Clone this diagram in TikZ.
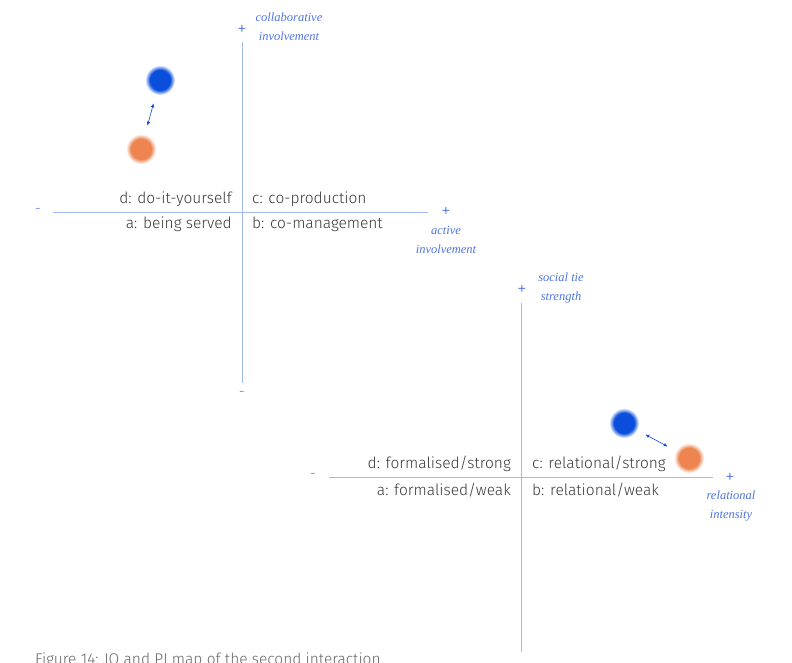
\documentclass[tikz,border=0pt]{standalone}
\usepackage{fontspec}
\setmainfont{Fira Sans Light}
\newfontfamily\axisfont{Liberation Serif}
\newfontfamily\signfont{Liberation Sans}
\usetikzlibrary{arrows.meta}

\definecolor{axisblue}{HTML}{4F74E0}
\definecolor{axisline}{HTML}{A3B8F0}
\definecolor{dotblue}{HTML}{0A4EDB}
\definecolor{dotorange}{HTML}{EE8450}
\definecolor{labelgray}{HTML}{383838}
\definecolor{captiongray}{HTML}{666666}

% soft-edged dots: solid core fading out to white at the rim
\pgfdeclareradialshading{bluedot}{\pgfpointorigin}{color(0bp)=(dotblue); color(17bp)=(dotblue); color(25bp)=(white); color(50bp)=(white)}
\pgfdeclareradialshading{orangedot}{\pgfpointorigin}{color(0bp)=(dotorange); color(17bp)=(dotorange); color(25bp)=(white); color(50bp)=(white)}

\tikzset{
  axis/.style={draw=axisline, line width=0.8pt},
  quadrant/.style={font=\fontsize{15.5}{18}\selectfont, text=labelgray, inner sep=0pt},
  axislabel/.style={font=\axisfont\itshape\fontsize{12.5}{19}\selectfont, text=axisblue, align=center, inner sep=0pt},
  plus/.style={font=\signfont\fontsize{14}{14}\selectfont, text=axisblue, inner sep=0pt},
  minus/.style={font=\fontsize{15}{15}\selectfont, text=axisblue, inner sep=0pt},
  bluedotnode/.style={circle, minimum size=30pt, inner sep=0pt, shading=bluedot},
  orangedotnode/.style={circle, minimum size=30pt, inner sep=0pt, shading=orangedot},
  shiftarrow/.style={draw=dotblue, line width=0.6pt, {Latex[length=4pt,width=3.5pt]}-{Latex[length=4pt,width=3.5pt]}, shorten <=9pt, shorten >=9pt}
}

\begin{document}
\begin{tikzpicture}[x=1pt,y=-1pt]
\useasboundingbox (0,0) rectangle (792,663);

% ---------- IO map ----------
\coordinate (ioT) at (242,42);
\coordinate (ioB) at (242,383);
\coordinate (ioL) at (53,212);
\coordinate (ioR) at (428,212);
\draw[axis] (ioT) -- (ioB);
\draw[axis] (ioL) -- (ioR);
\node[plus] (ioPlusT) at (242,29) {+};
\node[minus] (ioMinusB) at (242,394) {-};
\node[minus] (ioMinusL) at (38,211) {-};
\node[plus] (ioPlusR) at (446,211) {+};
\node[axislabel, anchor=base] (ioY) at (289,41) {collaborative\\involvement};
\node[axislabel, anchor=base] (ioX) at (446,253) {active\\involvement};

\node[quadrant, anchor=base east] (ioD) at (232,204) {d: do-it-yourself};
\node[quadrant, anchor=base west] (ioC) at (252,204) {c: co-production};
\node[quadrant, anchor=base east] (ioA) at (232,229) {a: being served};
\node[quadrant, anchor=base west] (ioBq) at (252,229) {b: co-management};

\node[bluedotnode] (ioBlue) at (160,80) {};
\node[orangedotnode] (ioOrange) at (141,149) {};
\draw[shiftarrow] (ioOrange) -- (ioBlue);

% ---------- PI map ----------
\coordinate (piT) at (521,303);
\coordinate (piB) at (521,652);
\coordinate (piL) at (329,477);
\coordinate (piR) at (713,477);
\draw[axis] (piT) -- (piB);
\draw[axis] (piL) -- (piR);
\node[plus] (piPlusT) at (522,289) {+};
\node[minus] (piMinusL) at (313,476) {-};
\node[plus] (piPlusR) at (730,477) {+};
\node[axislabel, anchor=base] (piY) at (561,300) {social tie\\strength};
\node[axislabel, anchor=base] (piX) at (731,518) {relational\\intensity};

\node[quadrant, anchor=base east] (piD) at (511,468) {d: formalised/strong};
\node[quadrant, anchor=base west] (piC) at (532,468) {c: relational/strong};
\node[quadrant, anchor=base east] (piA) at (511,495) {a: formalised/weak};
\node[quadrant, anchor=base west] (piBq) at (532,495) {b: relational/weak};

\node[bluedotnode] (piBlue) at (624,423) {};
\node[orangedotnode] (piOrange) at (689,458) {};
\draw[shiftarrow] (piBlue) -- (piOrange);

% ---------- caption ----------
\node[font=\fontsize{15.5}{18}\selectfont, text=captiongray, anchor=base west, inner sep=0pt] (caption) at (35,664) {Figure 14: IO and PI map of the second interaction};
\end{tikzpicture}
\end{document}
